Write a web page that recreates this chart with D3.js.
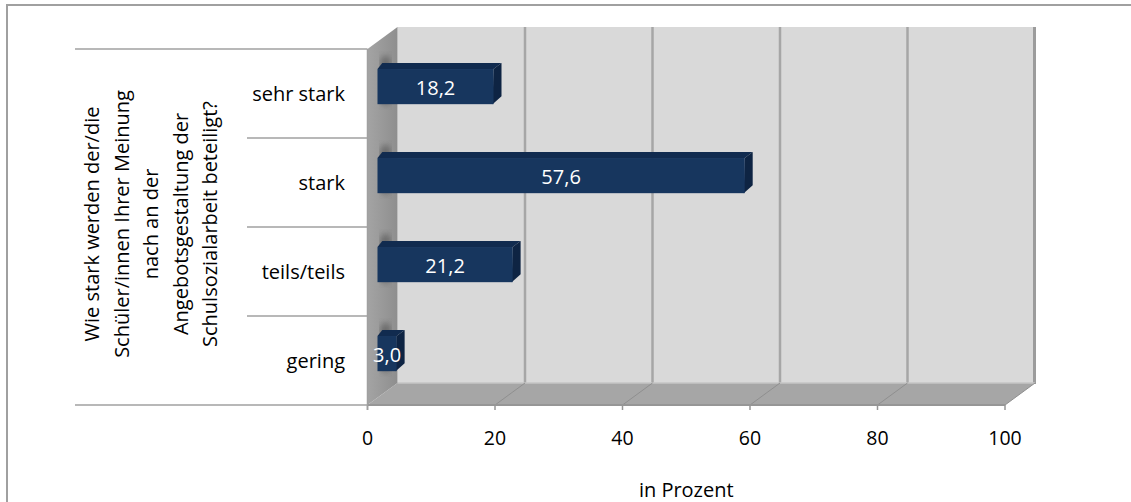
<!DOCTYPE html>
<html>
<head>
<meta charset="utf-8">
<script src="https://cdn.jsdelivr.net/npm/d3@7/dist/d3.min.js"></script>
<style>
  html, body { margin: 0; padding: 0; background: #fff; }
  svg { display: block; }
  .num { font-family: "Open Sans", "Noto Sans", sans-serif; font-weight: 400; }
  .lbl { font-family: "Open Sans", "Noto Sans", sans-serif; font-weight: 400; }
</style>
</head>
<body>
<svg id="chart" width="1131" height="502"></svg>
<script>
// Antworten auf die Frage nach der Beteiligung der Schüler/innen (in Prozent)
const categories = ["sehr stark", "stark", "teils/teils", "gering"];
const values = [18.2, 57.6, 21.2, 3.0];
const xTicks = [0, 20, 40, 60, 80, 100];
const axisTitleLines = [
  "Wie stark werden der/die",
  "Schüler/innen Ihrer Meinung",
  "nach an der",
  "Angebotsgestaltung der",
  "Schulsozialarbeit beteiligt?"
];
const xAxisTitle = "in Prozent";

const svg = d3.select("#chart");
const fmt = v => d3.format(".1f")(v).replace(".", ",");

// front plane of the 3D plot area
const x = d3.scaleLinear().domain([0, 100]).range([367.5, 1005]);
const y = d3.scaleBand().domain(categories).range([49, 405]).padding(0);
const DX = 30, DY = -22;          // depth of the plot box
const BAR_DX = 10;                // bars sit a third of the way into the box
const frontTop = y.range()[0], frontBottom = y.range()[1];
const backTop = frontTop + DY, backBottom = frontBottom + DY;

// outer frame
svg.append("rect").attr("x", 7).attr("y", 5).attr("width", 1140).attr("height", 520)
  .attr("fill", "none").attr("stroke", "#a0a0a0").attr("stroke-width", 2);

const defs = svg.append("defs");
const sideGrad = defs.append("linearGradient").attr("id", "sideGrad")
  .attr("x1", 0).attr("x2", 1).attr("y1", 0).attr("y2", 0);
sideGrad.append("stop").attr("offset", 0).attr("stop-color", "#a4a4a4");
sideGrad.append("stop").attr("offset", 1).attr("stop-color", "#8e8e8e");
defs.append("filter").attr("id", "soft").append("feGaussianBlur").attr("stdDeviation", 3);
defs.append("clipPath").attr("id", "sideClip").append("polygon")
  .attr("points", [[x(0), frontTop], [x(0) + DX, backTop], [x(0) + DX, backBottom], [x(0), frontBottom]].join(" "));

// back wall
svg.append("rect")
  .attr("x", x(0) + DX).attr("y", backTop)
  .attr("width", x(100) - x(0)).attr("height", backBottom - backTop)
  .attr("fill", "#d9d9d9");
// wall thickness on the right
svg.append("rect")
  .attr("x", x(100) + DX - 2).attr("y", backTop)
  .attr("width", 3).attr("height", backBottom - backTop + 1)
  .attr("fill", "#9c9c9c");

// back-wall gridlines
svg.append("g").selectAll("line").data(xTicks.slice(1, -1)).join("line")
  .attr("x1", d => x(d) + DX).attr("x2", d => x(d) + DX)
  .attr("y1", backTop).attr("y2", backBottom)
  .attr("stroke", "#a6a6a6").attr("stroke-width", 2.5);

// floor
svg.append("polygon")
  .attr("points", [[x(0), frontBottom], [x(100), frontBottom], [x(100) + DX, backBottom], [x(0) + DX, backBottom]].join(" "))
  .attr("fill", "#a6a6a6");
svg.append("line")
  .attr("x1", x(0) + DX).attr("x2", x(100) + DX).attr("y1", backBottom).attr("y2", backBottom)
  .attr("stroke", "#c4c4c4").attr("stroke-width", 1.5);
svg.append("g").selectAll("line").data(xTicks.slice(1)).join("line")
  .attr("x1", d => x(d)).attr("y1", frontBottom)
  .attr("x2", d => x(d) + DX).attr("y2", backBottom)
  .attr("stroke", "#8f8f8f").attr("stroke-width", 1);

// left side wall
svg.append("polygon")
  .attr("points", [[x(0), frontTop], [x(0) + DX, backTop], [x(0) + DX, backBottom], [x(0), frontBottom]].join(" "))
  .attr("fill", "url(#sideGrad)");
// shadows cast by the bars onto the side wall
svg.append("g").attr("clip-path", "url(#sideClip)").selectAll("rect").data(categories).join("rect")
  .attr("x", x(0) + 13).attr("width", 10)
  .attr("y", d => y(d) + y.bandwidth() * 0.08)
  .attr("height", y.bandwidth() * 0.55)
  .attr("rx", 5)
  .attr("fill", "#4a4a4a").attr("opacity", 0.6).attr("filter", "url(#soft)");

// front edge of the floor / value axis
svg.append("line")
  .attr("x1", x(0)).attr("x2", x(100)).attr("y1", frontBottom).attr("y2", frontBottom)
  .attr("stroke", "#969696").attr("stroke-width", 2);
svg.append("g").selectAll("line").data(xTicks).join("line")
  .attr("x1", d => x(d)).attr("x2", d => x(d))
  .attr("y1", frontBottom).attr("y2", frontBottom + 5)
  .attr("stroke", "#969696").attr("stroke-width", 1.5);
svg.append("line")
  .attr("x1", x(0)).attr("x2", x(0)).attr("y1", frontTop).attr("y2", frontBottom + 5)
  .attr("stroke", "#a0a0a0").attr("stroke-width", 1.5);

// bars
const barTop = d => y(d) + y.bandwidth() * 0.225;  // front face top
const barBottom = d => y(d) + y.bandwidth() * 0.62;
const bx0 = x(0) + BAR_DX;
const depthX = 8, depthY = -6;
const bars = svg.append("g").selectAll("g").data(categories).join("g");
bars.append("polygon") // top face
  .attr("points", (d, i) => {
    const x1 = x(values[i]) + BAR_DX, t = barTop(d);
    return [[bx0, t], [bx0 + depthX * 0.6, t + depthY], [x1 + depthX, t + depthY], [x1, t]].join(" ");
  })
  .attr("fill", "#112b4f");
bars.append("polygon") // right face
  .attr("points", (d, i) => {
    const x1 = x(values[i]) + BAR_DX, t = barTop(d), b = barBottom(d);
    return [[x1, t], [x1 + depthX, t + depthY], [x1 + depthX, b - 8], [x1 - 1, b]].join(" ");
  })
  .attr("fill", "#0e2443");
bars.append("rect") // front face
  .attr("x", bx0).attr("y", d => barTop(d))
  .attr("width", (d, i) => x(values[i]) - x(0))
  .attr("height", d => barBottom(d) - barTop(d))
  .attr("fill", "#17365e");

// value labels
svg.append("g").selectAll("text").data(categories).join("text")
  .attr("class", "num")
  .attr("x", (d, i) => bx0 + (x(values[i]) - x(0)) / 2)
  .attr("y", d => (barTop(d) + barBottom(d)) / 2 + 8)
  .attr("text-anchor", "middle")
  .attr("font-size", 20).attr("fill", "#ffffff")
  .text((d, i) => fmt(values[i]));

// category axis on the left
const catG = svg.append("g");
catG.selectAll("line.div").data(categories.slice(1)).join("line")
  .attr("x1", 247).attr("x2", x(0))
  .attr("y1", d => y(d)).attr("y2", d => y(d))
  .attr("stroke", "#a0a0a0").attr("stroke-width", 1.5);
catG.selectAll("line.edge").data([frontTop, frontBottom]).join("line")
  .attr("x1", 75).attr("x2", x(0))
  .attr("y1", d => d).attr("y2", d => d)
  .attr("stroke", "#a0a0a0").attr("stroke-width", 1.5);
catG.selectAll("text").data(categories).join("text")
  .attr("class", "lbl")
  .attr("x", 345).attr("y", d => y(d) + y.bandwidth() / 2 + 2)
  .attr("text-anchor", "end").attr("dominant-baseline", "middle")
  .attr("font-size", 20).attr("fill", "#000")
  .text(d => d);

// rotated axis title
const titleG = svg.append("g").attr("transform", "translate(153,224) rotate(-90)");
titleG.selectAll("text").data(axisTitleLines).join("text")
  .attr("class", "lbl")
  .attr("x", 0)
  .attr("y", (d, i) => (i - (axisTitleLines.length - 1) / 2) * 29.5)
  .attr("text-anchor", "middle").attr("dominant-baseline", "middle")
  .attr("font-size", 20).attr("fill", "#000")
  .text(d => d);

// value-axis tick labels and title
svg.append("g").selectAll("text").data(xTicks).join("text")
  .attr("class", "num")
  .attr("x", d => x(d)).attr("y", 445)
  .attr("text-anchor", "middle").attr("font-size", 19.5).attr("fill", "#000")
  .text(d => d);
svg.append("text").attr("class", "lbl")
  .attr("x", (x(0) + x(100)) / 2).attr("y", 497)
  .attr("text-anchor", "middle").attr("font-size", 20).attr("fill", "#000")
  .text(xAxisTitle);
</script>
</body>
</html>
